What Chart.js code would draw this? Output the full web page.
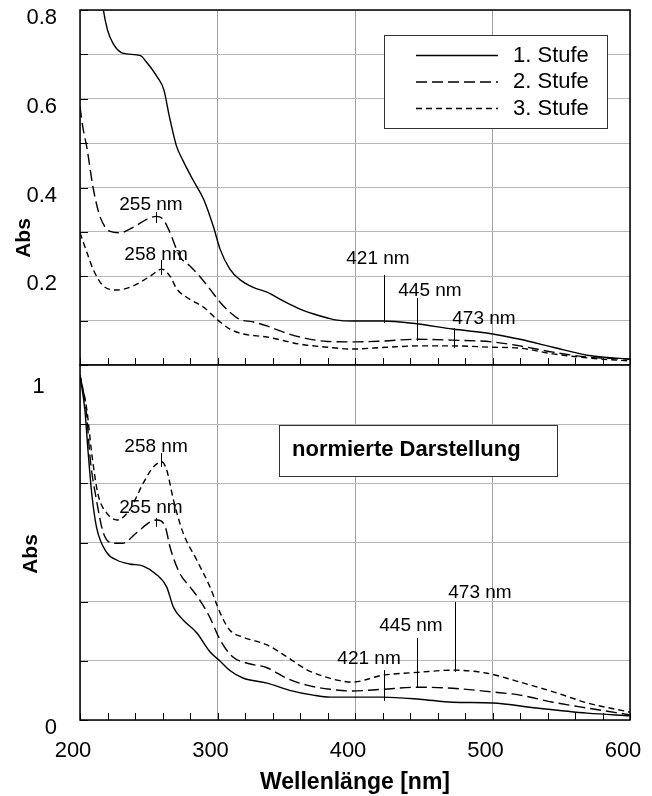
<!DOCTYPE html>
<html>
<head>
<meta charset="utf-8">
<script src="https://cdn.jsdelivr.net/npm/chart.js@4.4.1/dist/chart.umd.min.js"></script>
<style>
  html, body { margin: 0; padding: 0; background: #fff; }
  #wrap { position: relative; width: 652px; height: 796px; }
  #topBox { position: absolute; left: 0; top: 0; width: 652px; height: 366px; }
  #botBox { position: absolute; left: 0; top: 364px; width: 652px; height: 432px; }
</style>
</head>
<body>
<div id="wrap">
  <div id="topBox"><canvas id="topChart"></canvas></div>
  <div id="botBox"><canvas id="botChart"></canvas></div>
</div>
<script>
// Series names
const STUFEN = ['1. Stufe', '2. Stufe', '3. Stufe'];

// Top panel: absorbance, [wavelength nm, Abs]
const stufe1Top = [[210, 1.0], [214, 0.88], [217, 0.80], [220, 0.755], [224, 0.725], [231, 0.703], [244, 0.697],
    [248, 0.684], [256, 0.65], [261, 0.62], [265, 0.56], [270, 0.495], [275, 0.46], [282, 0.418], [290, 0.373],
    [297, 0.312], [302, 0.26], [309, 0.216], [316, 0.193], [326, 0.175], [336, 0.164], [348, 0.144], [360, 0.126],
    [370, 0.115], [380, 0.106], [387, 0.101], [398, 0.099], [420, 0.099], [442, 0.094], [471, 0.081], [500, 0.07],
    [520, 0.058], [544, 0.04], [569, 0.022], [600, 0.013]];
const stufe2Top = [[200, 0.582], [202, 0.537], [205, 0.49], [209.5, 0.40], [214.5, 0.335], [222, 0.301], [229, 0.298],
    [238.5, 0.31], [248.5, 0.328], [255.5, 0.335], [260.5, 0.328], [265.5, 0.298], [272.5, 0.245], [280, 0.223],
    [287, 0.2], [294.5, 0.171], [302, 0.141], [309, 0.119], [316, 0.103], [326, 0.097], [336, 0.088], [348, 0.074],
    [360, 0.063], [380, 0.053], [398, 0.052], [420, 0.054], [445, 0.058], [471, 0.056], [500, 0.052], [520, 0.043],
    [544, 0.029], [569, 0.018], [600, 0.013]];
const stufe3Top = [[200, 0.298], [205, 0.254], [209.5, 0.216], [217, 0.178], [227, 0.169], [238.5, 0.178], [251, 0.2],
    [259.5, 0.216], [265.5, 0.2], [270.5, 0.171], [280, 0.148], [290, 0.13], [299.5, 0.103], [309, 0.081],
    [318.5, 0.07], [336, 0.063], [360, 0.047], [380, 0.04], [398, 0.036], [423, 0.04], [447, 0.043], [471, 0.043],
    [500, 0.04], [520, 0.038], [544, 0.025], [569, 0.016], [600, 0.009]];

// Bottom panel: normalised absorbance
const stufe1Norm = [[200, 1.01], [203.5, 0.91], [206, 0.78], [208.5, 0.665], [212, 0.565], [219.5, 0.49], [227, 0.468],
    [236, 0.457], [246, 0.451], [256, 0.425], [263, 0.39], [268, 0.33], [275, 0.293], [285, 0.255], [294.5, 0.2],
    [302, 0.172], [309, 0.145], [318.5, 0.123], [336, 0.108], [352.5, 0.087], [369.5, 0.073], [382, 0.067],
    [398, 0.067], [420, 0.067], [447, 0.061], [471, 0.052], [500, 0.05], [532, 0.035], [569, 0.02], [600, 0.012]];
const stufe2Norm = [[200, 1.01], [204.5, 0.908], [207.5, 0.762], [212, 0.644], [217, 0.548], [224, 0.518], [231, 0.518],
    [241, 0.548], [251, 0.58], [256, 0.586], [262, 0.566], [265.5, 0.506], [272.5, 0.43], [280, 0.39], [287, 0.352],
    [294.5, 0.3], [302, 0.234], [311, 0.185], [321, 0.167], [336, 0.153], [350.5, 0.122], [365, 0.102], [382, 0.09],
    [398, 0.085], [420, 0.09], [445, 0.096], [471, 0.093], [500, 0.082], [520, 0.073], [544, 0.052], [569, 0.035],
    [600, 0.015]];
const stufe3Norm = [[200, 1.01], [205, 0.908], [208.5, 0.782], [213, 0.663], [219.5, 0.606], [227, 0.586], [236, 0.615],
    [246, 0.694], [253.5, 0.742], [259.5, 0.756], [263, 0.733], [268, 0.644], [275, 0.548], [285, 0.468],
    [294.5, 0.39], [302, 0.313], [309, 0.263], [318.5, 0.243], [336, 0.22], [350.5, 0.185], [365, 0.147],
    [382, 0.122], [387, 0.117], [398, 0.111], [420, 0.131], [447, 0.14], [471, 0.146], [496, 0.137], [520, 0.111],
    [547, 0.079], [569, 0.05], [600, 0.023]];

// Peak labels: [text, nm, Abs of label centre]
const peakLabelsTop = [['255 nm', 251.6, 0.361], ['258 nm', 255.3, 0.248], ['421 nm', 416.7, 0.239],
    ['445 nm', 454.5, 0.167], ['473 nm', 493.8, 0.104]];
const peakLabelsNorm = [['258 nm', 255.3, 0.80], ['255 nm', 251.6, 0.621], ['421 nm', 410.2, 0.179],
    ['445 nm', 440.7, 0.275], ['473 nm', 490.9, 0.372]];
// Peak marker lines: [nm, Abs from, Abs to]
const peakMarksTop = [[255, 0.345, 0.32], [259, 0.237, 0.203], [421, 0.203, 0.095], [445, 0.151, 0.054], [472, 0.083, 0.038]];
const peakMarksNorm = [[259, 0.782, 0.741], [255, 0.592, 0.566], [421, 0.146, 0.056], [445, 0.24, 0.094], [473, 0.346, 0.141]];

const NORM_MAX = 1.04;
const NORM_GRID_STEPS = 6;

const FONT = "'Liberation Sans', Arial, sans-serif";
const GRID = '#b8b8b8';
const GRID_X = '#a0a0a0';
const DASHES = [[], [11, 5], [6, 4]];

const toPoints = pairs => pairs.map(([x, y]) => ({ x, y }));

function makeDatasets(series) {
    return series.map((s, i) => ({
        label: STUFEN[i],
        data: toPoints(s),
        borderColor: '#000',
        borderWidth: 1.4,
        borderDash: DASHES[i],
        pointRadius: 0,
        fill: false,
        cubicInterpolationMode: 'monotone'
    }));
}

function xAxis(showLabels) {
    return {
        type: 'linear', min: 200, max: 600,
        afterFit: s => { s.height = showLabels ? 76 : 0; s.paddingLeft = 0; s.paddingRight = 0; },
        ticks: {
            stepSize: 20, autoSkip: false, maxRotation: 0, display: showLabels,
            padding: 18, labelOffset: -7, color: '#000', font: { family: FONT, size: 22 },
            callback: v => (v % 100 === 0 ? String(v) : '')
        },
        grid: {
            drawTicks: false, lineWidth: 1,
            color: c => (c.tick && c.tick.value % 100 === 0 ? GRID_X : 'rgba(0,0,0,0)')
        },
        border: { display: false },
        title: {
            display: showLabels, text: 'Wellenlänge [nm]', color: '#000',
            font: { family: FONT, size: 23, weight: 'bold' }, padding: { top: 0, bottom: 0 }
        }
    };
}

// Inner tick marks, peak markers, labels, legend, frame
const decorations = {
    id: 'decorations',
    afterDatasetsDraw(chart, args, opts) {
        const { ctx, chartArea: a, scales: { x, y } } = chart;
        ctx.save();
        ctx.strokeStyle = '#000';
        ctx.lineWidth = 1;
        ctx.setLineDash([]);
        ctx.beginPath();
        x.ticks.forEach(t => {
            const px = Math.round(x.getPixelForValue(t.value)) + 0.5;
            ctx.moveTo(px, a.bottom);
            ctx.lineTo(px, a.bottom - 7);
        });
        y.ticks.forEach(t => {
            if ((opts.skipYTicks || []).includes(t.value)) return;
            const py = Math.round(y.getPixelForValue(t.value)) + 0.5;
            ctx.moveTo(a.left, py);
            ctx.lineTo(a.left + 8, py);
        });
        (opts.marks || []).forEach(([nm, y0, y1]) => {
            const px = Math.round(x.getPixelForValue(nm)) + 0.5;
            ctx.moveTo(px, y.getPixelForValue(y0));
            ctx.lineTo(px, y.getPixelForValue(y1));
        });
        ctx.stroke();

        ctx.fillStyle = '#000';
        ctx.font = '19px ' + FONT;
        ctx.textAlign = 'center';
        ctx.textBaseline = 'middle';
        (opts.labels || []).forEach(([txt, nm, v]) => {
            ctx.fillText(txt, x.getPixelForValue(nm), y.getPixelForValue(v));
        });

        if (opts.legend) {
            ctx.fillStyle = '#fff';
            ctx.fillRect(384, 35, 223, 93);
            ctx.strokeStyle = '#333';
            ctx.strokeRect(384.5, 35.5, 223, 93);
            ctx.font = '22px ' + FONT;
            ctx.textAlign = 'left';
            chart.data.datasets.forEach((ds, i) => {
                const ry = 55.5 + i * 26.5;
                ctx.strokeStyle = '#000';
                ctx.lineWidth = 1.4;
                ctx.setLineDash(ds.borderDash);
                ctx.beginPath();
                ctx.moveTo(416, ry);
                ctx.lineTo(498, ry);
                ctx.stroke();
                ctx.setLineDash([]);
                ctx.fillStyle = '#000';
                ctx.fillText(ds.label, 513, ry);
            });
        }
        if (opts.noteBox) {
            ctx.fillStyle = '#fff';
            ctx.fillRect(279, 61, 278, 51);
            ctx.strokeStyle = '#333';
            ctx.lineWidth = 1;
            ctx.strokeRect(279.5, 61.5, 278, 51);
            ctx.fillStyle = '#000';
            ctx.font = 'bold 22px ' + FONT;
            ctx.textAlign = 'left';
            ctx.fillText('normierte Darstellung', 292, 86);
        }

        // y title
        ctx.save();
        ctx.translate(opts.titleX, opts.titleY);
        ctx.rotate(-Math.PI / 2);
        ctx.font = 'bold 21px ' + FONT;
        ctx.textAlign = 'center';
        ctx.fillStyle = '#000';
        ctx.fillText('Abs', 0, 0);
        ctx.restore();

        ctx.strokeStyle = '#000';
        ctx.lineWidth = 1.5;
        ctx.setLineDash([]);
        ctx.strokeRect(a.left, a.top, a.right - a.left, a.bottom - a.top);
        ctx.restore();
    }
};

const baseOptions = {
    responsive: true,
    maintainAspectRatio: false,
    animation: false,
    events: [],
    plugins: { legend: { display: false }, tooltip: { enabled: false } }
};

// Top chart
new Chart(document.getElementById('topChart'), {
    type: 'line',
    data: { datasets: makeDatasets([stufe1Top, stufe2Top, stufe3Top]) },
    plugins: [decorations],
    options: {
        ...baseOptions,
        layout: { padding: { top: 10, right: 22, bottom: 1, left: 0 } },
        plugins: {
            ...baseOptions.plugins,
            decorations: { marks: peakMarksTop, labels: peakLabelsTop, legend: true, titleX: 24, titleY: 238 }
        },
        scales: {
            x: xAxis(false),
            y: {
                min: 0, max: 0.8,
                afterFit: s => { s.width = 80; s.paddingTop = 0; s.paddingBottom = 0; },
                ticks: {
                    stepSize: 0.1, autoSkip: false, padding: 23, labelOffset: 8, color: '#000',
                    font: { family: FONT, size: 22 },
                    callback: v => { const k = Math.round(v * 10); return (k > 0 && k % 2 === 0) ? (k / 10).toFixed(1) : ''; }
                },
                grid: { drawTicks: false, color: GRID },
                border: { display: false }
            }
        }
    }
});

// Bottom chart (normalised)
new Chart(document.getElementById('botChart'), {
    type: 'line',
    data: { datasets: makeDatasets([stufe1Norm, stufe2Norm, stufe3Norm]) },
    plugins: [decorations],
    options: {
        ...baseOptions,
        layout: { padding: { top: 1, right: 22, bottom: 0, left: 0 } },
        plugins: {
            ...baseOptions.plugins,
            decorations: { marks: peakMarksNorm, labels: peakLabelsNorm, noteBox: true, skipYTicks: [1], titleX: 31, titleY: 190 }
        },
        scales: {
            x: xAxis(true),
            y: {
                min: 0, max: NORM_MAX,
                afterBuildTicks: s => {
                    const vals = [0, 1];
                    for (let k = 1; k <= NORM_GRID_STEPS; k++) vals.push(k * NORM_MAX / NORM_GRID_STEPS);
                    s.ticks = vals.sort((p, q) => p - q).map(v => ({ value: v }));
                },
                afterFit: s => { s.width = 80; s.paddingTop = 0; s.paddingBottom = 0; },
                ticks: {
                    autoSkip: false, padding: 23, labelOffset: 8, color: '#000',
                    font: { family: FONT, size: 22 },
                    callback: v => (v === 0 ? '0' : v === 1 ? '1  ' : '')
                },
                grid: { drawTicks: false, color: c => (c.tick && c.tick.value === 1 ? 'rgba(0,0,0,0)' : GRID) },
                border: { display: false }
            }
        }
    }
});
</script>
</body>
</html>
